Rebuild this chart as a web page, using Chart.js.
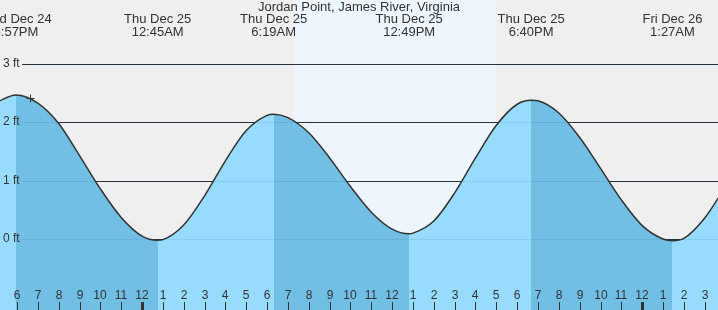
<!DOCTYPE html>
<html lang="en">
    <head>
        <meta charset="UTF-8" />
        <title>Jordan Point tides</title>
        <script src="https://cdn.jsdelivr.net/npm/chart.js"></script>
        <style>
            body {
                margin: 0;
                background: #efefef;
            }
            #wrap {
                width: 718px;
                height: 310px;
            }
        </style>
    </head>
    <body>
        <div id="wrap"><canvas id="tideChart"></canvas></div>

        <script>
            // hours counted from Wed Dec 24 00:00
            const tideHours = [
                17, 17.95, 19, 20, 21, 22, 23, 24, 24.75, 25, 26, 27, 28, 29, 30, 30.317,
                31, 32, 33, 34, 35, 36, 36.817, 37, 38, 39, 40, 41, 42, 42.667, 43, 44,
                45, 46, 47, 48, 49, 49.45, 50, 51, 52,
            ]
            const tideFeet = [
                2.34, 2.47, 2.33, 1.98, 1.43, 0.86, 0.37, 0.05, -0.02, -0.01, 0.24, 0.74, 1.34, 1.86, 2.12, 2.14,
                2.08, 1.82, 1.39, 0.9, 0.46, 0.17, 0.09, 0.1, 0.31, 0.79, 1.39, 1.95, 2.31, 2.38, 2.37, 2.16,
                1.74, 1.21, 0.67, 0.23, 0.0, -0.03, 0.01, 0.36, 0.9,
            ]

            const extremeHours = [17.95, 24.75, 30.317, 36.817, 42.667, 49.45]
            const extremeTypes = ['H', 'L', 'H', 'L', 'H', 'L']
            const extremeDays = ['Wed Dec 24', 'Thu Dec 25', 'Thu Dec 25', 'Thu Dec 25', 'Thu Dec 25', 'Fri Dec 26']
            const extremeTimes = ['5:57PM', '12:45AM', '6:19AM', '12:49PM', '6:40PM', '1:27AM']

            const hourLabels = [
                '6', '7', '8', '9', '10', '11', '12', '1', '2', '3', '4', '5', '6', '7', '8', '9', '10', '11',
                '12', '1', '2', '3', '4', '5', '6', '7', '8', '9', '10', '11', '12', '1', '2', '3',
            ]
            const firstLabelHour = 18
            const midnightHours = [24, 48]

            const feetTicks = [0, 1, 2, 3]
            const daylight = [31.333, 40.98]
            const nowMarker = { hour: 18.62, feet: 2.41 }
            const title = 'Jordan Point, James River, Virginia'

            const lightFill = '#97dcfd'
            const darkFill = '#72bfe5'
            const ink = '#333333'
            const smallFont = "12px 'Liberation Sans', Arial, sans-serif"
            const headFont = "13px 'Liberation Sans', Arial, sans-serif"

            function bandFill(context) {
                const chart = context.chart
                const area = chart.chartArea
                if (!area) return lightFill
                const xs = chart.scales.x
                const g = chart.ctx.createLinearGradient(area.left, 0, area.right, 0)
                let prev = 0
                let color = extremeTypes[0] === 'H' ? lightFill : darkFill
                extremeHours.forEach((h, i) => {
                    let pos = (xs.getPixelForValue(h) - area.left) / area.width
                    pos = Math.min(1, Math.max(prev, pos))
                    g.addColorStop(prev, color)
                    g.addColorStop(pos, color)
                    color = extremeTypes[i] === 'H' ? darkFill : lightFill
                    prev = pos
                })
                g.addColorStop(prev, color)
                g.addColorStop(1, color)
                return g
            }

            const tidePainter = {
                id: 'tidePainter',
                beforeDatasetsDraw(chart) {
                    const { ctx, chartArea: a, scales } = chart
                    const { x, y } = scales
                    ctx.save()
                    ctx.fillStyle = '#efefef'
                    ctx.fillRect(a.left, a.top, a.width, a.height)
                    const d0 = x.getPixelForValue(daylight[0])
                    const d1 = x.getPixelForValue(daylight[1])
                    ctx.fillStyle = '#eef6fd'
                    ctx.fillRect(d0, a.top, d1 - d0, a.height)

                    ctx.strokeStyle = ink
                    ctx.lineWidth = 1
                    feetTicks.forEach((f) => {
                        const py = Math.round(y.getPixelForValue(f)) + 0.5
                        ctx.beginPath()
                        ctx.moveTo(22, py)
                        ctx.lineTo(a.right, py)
                        ctx.stroke()
                    })
                    ctx.restore()
                },
                afterDatasetsDraw(chart) {
                    const { ctx, chartArea: a, scales } = chart
                    const { x, y } = scales
                    ctx.save()

                    // grid showing faintly through the water
                    ctx.strokeStyle = 'rgba(0, 60, 100, 0.09)'
                    ctx.lineWidth = 1
                    feetTicks.forEach((f) => {
                        const py = Math.round(y.getPixelForValue(f)) + 0.5
                        ctx.beginPath()
                        ctx.moveTo(22, py)
                        ctx.lineTo(a.right, py)
                        ctx.stroke()
                    })

                    ctx.fillStyle = ink
                    ctx.font = smallFont
                    ctx.textBaseline = 'middle'
                    ctx.textAlign = 'left'
                    feetTicks.forEach((f) => {
                        ctx.fillText(f + ' ft', 3, Math.round(y.getPixelForValue(f)))
                    })

                    // title and tide times
                    ctx.font = headFont
                    ctx.textAlign = 'center'
                    ctx.fillText(title, (a.left + a.right) / 2, 7.5)
                    extremeHours.forEach((h, i) => {
                        const px = x.getPixelForValue(h)
                        ctx.fillText(extremeDays[i], px, 19.5)
                        ctx.fillText(extremeTimes[i], px, 32)
                    })

                    // hour ticks along the bottom
                    ctx.font = smallFont
                    ctx.strokeStyle = ink
                    hourLabels.forEach((label, i) => {
                        const h = firstLabelHour + i
                        const px = Math.round(x.getPixelForValue(h))
                        ctx.fillText(label, px, 296)
                        const big = midnightHours.includes(h)
                        ctx.fillRect(big ? px - 1 : px, 302, big ? 3 : 1, a.bottom - 302)
                    })

                    // current time cross
                    const mx = Math.round(x.getPixelForValue(nowMarker.hour)) + 0.5
                    const my = Math.round(y.getPixelForValue(nowMarker.feet)) + 0.5
                    ctx.beginPath()
                    ctx.moveTo(mx - 4, my)
                    ctx.lineTo(mx + 4, my)
                    ctx.moveTo(mx, my - 4)
                    ctx.lineTo(mx, my + 4)
                    ctx.stroke()

                    ctx.restore()
                },
            }

            const config = {
                type: 'line',
                data: {
                    datasets: [
                        {
                            data: tideHours.map((h, i) => ({ x: h, y: tideFeet[i] })),
                            borderColor: ink,
                            borderWidth: 1.5,
                            pointRadius: 0,
                            cubicInterpolationMode: 'monotone',
                            fill: 'start',
                            backgroundColor: bandFill,
                        },
                    ],
                },
                options: {
                    responsive: true,
                    maintainAspectRatio: false,
                    animation: false,
                    layout: { padding: 0 },
                    scales: {
                        x: { type: 'linear', min: 17.184, max: 51.636, display: false },
                        y: { min: -1.217, max: 4.097, display: false },
                    },
                    plugins: {
                        legend: { display: false },
                        tooltip: { enabled: false },
                    },
                },
                plugins: [tidePainter],
            }

            new Chart(document.getElementById('tideChart'), config)
        </script>
    </body>
</html>
